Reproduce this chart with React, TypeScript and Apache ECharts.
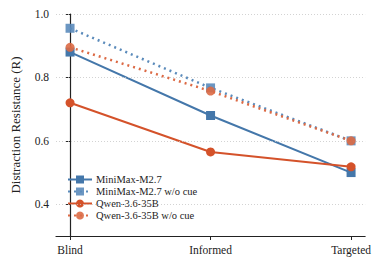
import React, { useEffect, useRef } from "react";
import * as echarts from "echarts";

const categories = ["Blind", "Informed", "Targeted"];
const minimax = [0.88, 0.68, 0.5];
const minimaxNoCue = [0.955, 0.767, 0.6];
const qwen = [0.72, 0.565, 0.518];
const qwenNoCue = [0.895, 0.757, 0.6];
const yTicks = [0.4, 0.6, 0.8, 1.0];

const BLUE = "#4477aa";
const BLUE_L = "#5b8bbb";
const ORANGE = "#d4522a";
const ORANGE_L = "#dc6a45";
const FONT = "'Liberation Serif', 'Times New Roman', 'DejaVu Serif', serif";

export default function App() {
  const ref = useRef<HTMLDivElement>(null);
  useEffect(() => {
    const chart = echarts.init(ref.current!, null, { renderer: "svg" });
    const toXY = (arr: number[]) => arr.map((v, i) => [i, v]);
    const mk = (name: string, data: number[], color: string, symbol: string, dotted: boolean, z: number) => ({
      name,
      type: "line",
      data: toXY(data),
      symbol,
      symbolSize: 9,
      z,
      lineStyle: { color, width: dotted ? 2.5 : 2, type: dotted ? [2, 4] : "solid" },
      itemStyle: { color, opacity: dotted ? 0.9 : 1 },
      emphasis: { disabled: true },
    });
    const rich = {
      s: { fontFamily: FONT, fontSize: 11.5, color: "#222" },
      n: { fontFamily: FONT, fontSize: 13, color: "#222" },
    };
    chart.setOption({
      animation: false,
      textStyle: { fontFamily: FONT },
      grid: { left: 56, right: 1, top: 14, bottom: 26, containLabel: false },
      xAxis: {
        type: "value",
        min: -0.1,
        max: 2.1,
        splitLine: { show: false },
        axisLine: { lineStyle: { color: "#222", width: 1.2 } },
        axisTick: { customValues: [0, 1, 2], length: 4, lineStyle: { color: "#222" } },
        axisLabel: {
          customValues: [0, 1, 2],
          formatter: (v: number) => "{s|" + categories[Math.round(v)] + "}",
          rich,
          color: "#222",
          fontSize: 11.5,
          fontFamily: FONT,
          margin: 8,
        },
      },
      yAxis: {
        type: "value",
        min: 0.3,
        max: 1.0,
        name: "{n|Distraction Resistance (R)}",
        nameLocation: "middle",
        nameGap: 34,
        nameTextStyle: { fontSize: 13, color: "#222", fontFamily: FONT, rich },
        splitLine: { show: false },
        axisLine: { show: true, lineStyle: { color: "#222", width: 1.2 } },
        axisTick: { show: true, customValues: yTicks, length: 4, lineStyle: { color: "#222" } },
        axisLabel: {
          customValues: yTicks,
          formatter: (v: number) => "{s|" + v.toFixed(1) + "}",
          rich,
          color: "#222",
          fontSize: 11.5,
          fontFamily: FONT,
          margin: 7,
        },
      },
      legend: {
        left: 62,
        top: 169,
        orient: "vertical",
        itemWidth: 24,
        itemHeight: 10,
        itemGap: 1,
        textStyle: { fontSize: 10.5, color: "#222", fontFamily: FONT, padding: [0, 0, 0, -1] },
        data: ["MiniMax-M2.7", "MiniMax-M2.7 w/o cue", "Qwen-3.6-35B", "Qwen-3.6-35B w/o cue"],
      },
      series: [
        {
          type: "line",
          data: [],
          silent: true,
          markLine: {
            silent: true,
            symbol: "none",
            label: { show: false },
            lineStyle: { color: "#c8c8c8", type: [1, 2], width: 0.8 },
            data: yTicks.map((v) => ({ yAxis: v })),
          },
        },
        mk("MiniMax-M2.7", minimax, BLUE, "rect", false, 3),
        mk("MiniMax-M2.7 w/o cue", minimaxNoCue, BLUE_L, "rect", true, 2),
        mk("Qwen-3.6-35B", qwen, ORANGE, "circle", false, 4),
        mk("Qwen-3.6-35B w/o cue", qwenNoCue, ORANGE_L, "circle", true, 5),
      ],
    });
    return () => chart.dispose();
  }, []);
  return <div ref={ref} style={{ width: 374, height: 262, position: "absolute", left: 0, top: 0 }} />;
}
